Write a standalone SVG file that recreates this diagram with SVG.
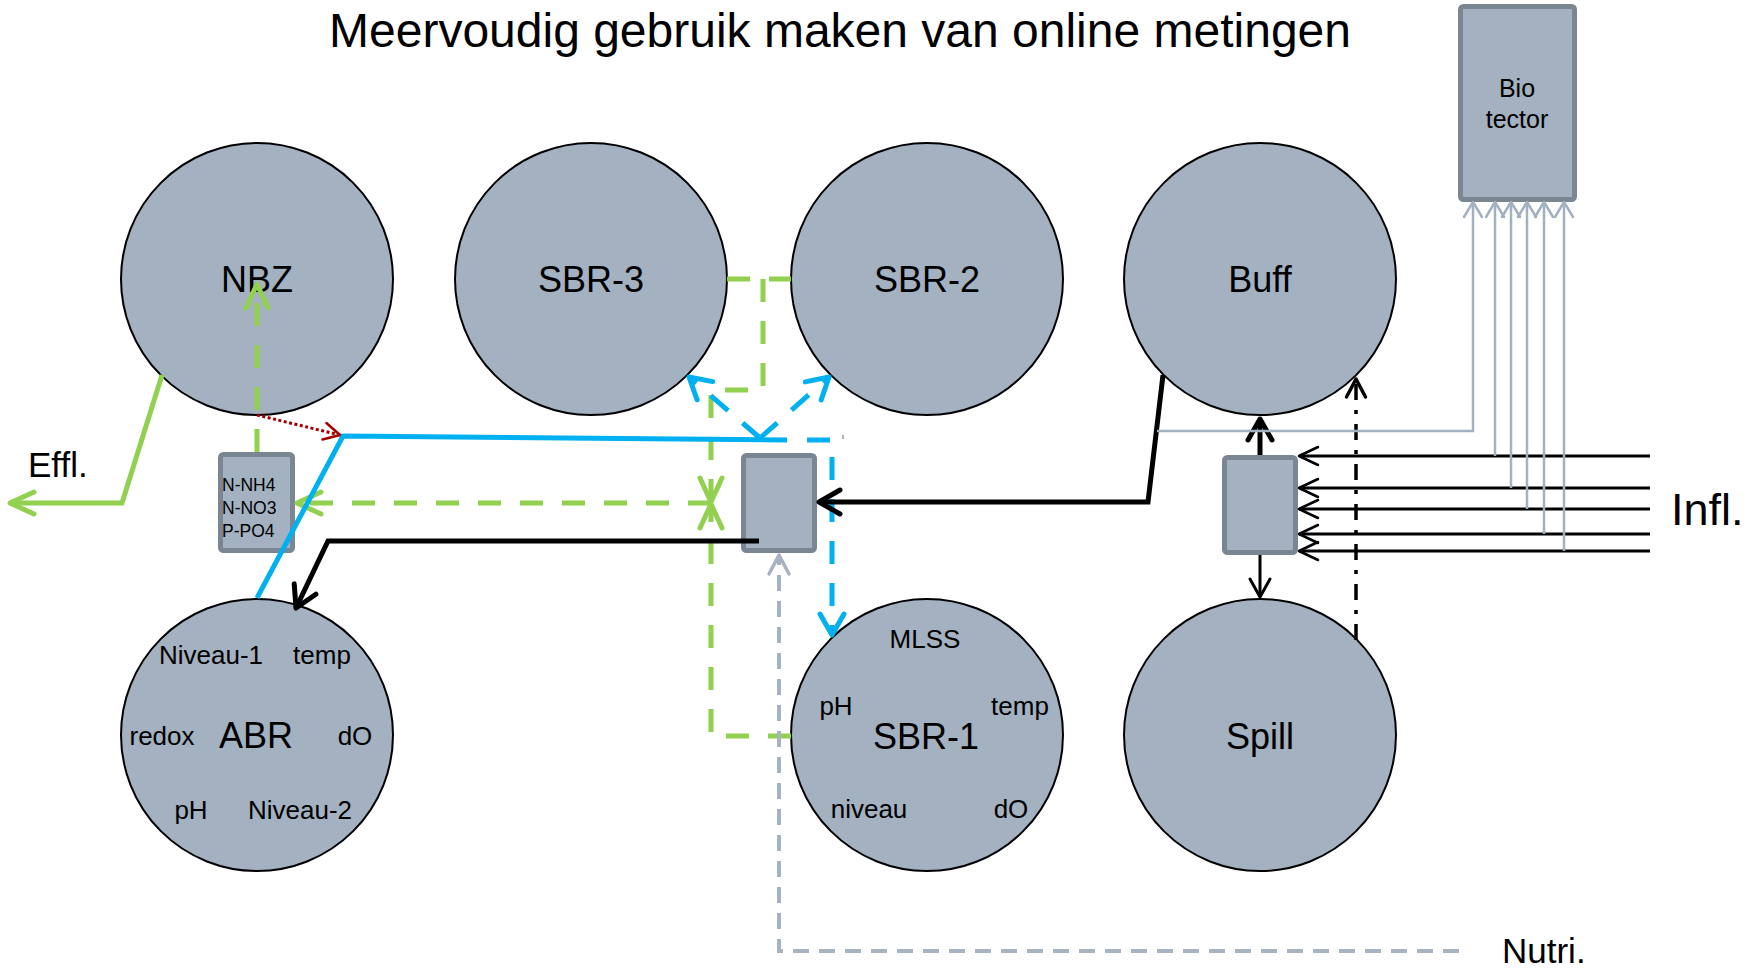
<svg xmlns="http://www.w3.org/2000/svg" width="1758" height="968" viewBox="0 0 1758 968">
<style>
.circ{fill:#a3b1c1;stroke:#000;stroke-width:2}
.box{fill:#a3b1c1;stroke:#7b8693;stroke-width:5}
text{font-family:"Liberation Sans",Arial,sans-serif;fill:#000}
.big{font-size:36px;text-anchor:middle}
.sm{font-size:26px;text-anchor:middle}
.c{fill:none;stroke-linejoin:miter}
.gs{stroke:#92d050;stroke-width:5}
.gd{stroke:#92d050;stroke-width:5;stroke-dasharray:23 19}
.bs{stroke:#00b0f0;stroke-width:5}
.bd{stroke:#00b0f0;stroke-width:5;stroke-dasharray:23 19}
.rd{stroke:#a00000;stroke-width:3;stroke-dasharray:3 2.5}
.k5{stroke:#000;stroke-width:5}
.k3{stroke:#000;stroke-width:3}
.kdd{stroke:#000;stroke-width:3.5;stroke-dasharray:16 10 4 10}
.gr{stroke:#a2b1c1;stroke-width:2.5}
.nd{stroke:#a7b3c1;stroke-width:4;stroke-dasharray:16 10}
.ah{fill:none;stroke-linecap:round;stroke-linejoin:round}
</style>
<defs>
<marker id="mG" markerUnits="userSpaceOnUse" orient="auto" viewBox="-30 -16 34 32" markerWidth="34" markerHeight="32" refX="0" refY="0" overflow="visible"><path class="ah" d="M-24,-11 L0,0 L-24,11" stroke="#92d050" stroke-width="5"/></marker>
<marker id="mB" markerUnits="userSpaceOnUse" orient="auto" viewBox="-30 -16 34 32" markerWidth="34" markerHeight="32" refX="0" refY="0" overflow="visible"><path class="ah" d="M-21,-12 L0,0 L-21,12" stroke="#00b0f0" stroke-width="5"/></marker>
<marker id="mK" markerUnits="userSpaceOnUse" orient="auto" viewBox="-30 -16 34 32" markerWidth="34" markerHeight="32" refX="0" refY="0" overflow="visible"><path class="ah" d="M-21,-12 L0,0 L-21,12" stroke="#000" stroke-width="5"/></marker>
<marker id="mKs" markerUnits="userSpaceOnUse" orient="auto" viewBox="-30 -16 34 32" markerWidth="34" markerHeight="32" refX="0" refY="0" overflow="visible"><path class="ah" d="M-18,-10 L0,0 L-18,10" stroke="#000" stroke-width="3"/></marker>
<marker id="mI" markerUnits="userSpaceOnUse" orient="auto" viewBox="-30 -16 34 32" markerWidth="34" markerHeight="32" refX="0" refY="0" overflow="visible"><path class="ah" d="M-19,-9 L0,0 L-19,9" stroke="#000" stroke-width="2.5"/></marker>
<marker id="mKd" markerUnits="userSpaceOnUse" orient="auto" viewBox="-30 -16 34 32" markerWidth="34" markerHeight="32" refX="0" refY="0" overflow="visible"><path class="ah" d="M-18,-9.5 L0,0 L-18,9.5" stroke="#000" stroke-width="3.5"/></marker>
<marker id="mGr" markerUnits="userSpaceOnUse" orient="auto" viewBox="-30 -16 34 32" markerWidth="34" markerHeight="32" refX="0" refY="0" overflow="visible"><path class="ah" d="M-15,-9 L0,0 L-15,9" stroke="#a2b1c1" stroke-width="2.5"/></marker>
<marker id="mN" markerUnits="userSpaceOnUse" orient="auto" viewBox="-30 -16 34 32" markerWidth="34" markerHeight="32" refX="0" refY="0" overflow="visible"><path class="ah" d="M-19,-10 L0,0 L-19,10" stroke="#a7b3c1" stroke-width="3.5"/></marker>
<marker id="mR" markerUnits="userSpaceOnUse" orient="auto" viewBox="-30 -16 34 32" markerWidth="34" markerHeight="32" refX="0" refY="0" overflow="visible"><path class="ah" d="M-16,-8.5 L0,0 L-16,8.5" stroke="#a00000" stroke-width="2.5"/></marker>
</defs>
<rect width="1758" height="968" fill="#fff"/>
<text x="840" y="47" style="font-size:48px;text-anchor:middle">Meervoudig gebruik maken van online metingen</text>

<g id="NBZ"><circle class="circ" cx="257" cy="279" r="136"/><text class="big" x="257" y="292">NBZ</text></g>
<g id="SBR-3"><circle class="circ" cx="591" cy="279" r="136"/><text class="big" x="591" y="292">SBR-3</text></g>
<g id="SBR-2"><circle class="circ" cx="927" cy="279" r="136"/><text class="big" x="927" y="292">SBR-2</text></g>
<g id="Buff"><circle class="circ" cx="1260" cy="279" r="136"/><text class="big" x="1260" y="292">Buff</text></g>
<g id="ABR"><circle class="circ" cx="257" cy="735" r="136"/><text class="big" x="256" y="748">ABR</text>
<text class="sm" x="211" y="664">Niveau-1</text><text class="sm" x="322" y="664">temp</text>
<text class="sm" x="162" y="745">redox</text><text class="sm" x="355" y="745">dO</text>
<text class="sm" x="191" y="819">pH</text><text class="sm" x="300" y="819">Niveau-2</text></g>
<g id="SBR-1"><circle class="circ" cx="927" cy="735" r="136"/><text class="big" x="926" y="749">SBR-1</text>
<text class="sm" x="925" y="648">MLSS</text><text class="sm" x="836" y="715">pH</text><text class="sm" x="1020" y="715">temp</text>
<text class="sm" x="869" y="818">niveau</text><text class="sm" x="1011" y="818">dO</text></g>
<g id="Spill"><circle class="circ" cx="1260" cy="735" r="136"/><text class="big" x="1260" y="749">Spill</text></g>

<g id="sensor"><rect class="box" x="220.5" y="454.5" width="72" height="96" rx="3"/>
<text x="222" y="491" style="font-size:17.5px">N-NH4</text><text x="222" y="514" style="font-size:17.5px">N-NO3</text><text x="222" y="537" style="font-size:17.5px">P-PO4</text></g>
<g id="verdeler"><rect class="box" x="743.5" y="455.5" width="71" height="95" rx="3"/></g>
<g id="splitter"><rect class="box" x="1224.5" y="457.5" width="71" height="95" rx="3"/></g>
<g id="biotector"><rect class="box" x="1460.5" y="6.5" width="114" height="193" rx="3"/>
<text x="1517" y="97" style="font-size:25px;text-anchor:middle">Bio</text><text x="1517" y="128" style="font-size:25px;text-anchor:middle">tector</text></g>

<g id="connectors">
<path class="c gs" d="M162,375 L122,503 L10,503" marker-end="url(#mG)"/>
<path class="c gd" d="M257,452 V284" marker-end="url(#mG)"/>
<path class="c gd" d="M727,279 H791"/>
<path class="c gd" d="M763,279 V390 H711 V502" marker-end="url(#mG)"/>
<path class="c gd" d="M791,736 H711 V504" marker-end="url(#mG)"/>
<path class="c gd" d="M711,503 H297" marker-end="url(#mG)"/>
<path class="c bs" d="M257,598 L343,436 L787,440"/>
<path class="c bd" d="M760,438 L689,377" marker-end="url(#mB)"/>
<path class="c bd" d="M760,438 L829,377" marker-end="url(#mB)"/>
<path class="c bd" d="M807,440 H832 V635" marker-end="url(#mB)"/>
<path class="c" d="M843,435 V439" stroke="#a7b3c1" stroke-width="2"/>
<path class="c rd" d="M257,415 L340,435" marker-end="url(#mR)"/>
<path class="c k5" d="M759,541 H328 L296,608" marker-end="url(#mK)"/>
<path class="c k5" d="M1163,375 L1148,502 H819" marker-end="url(#mK)"/>
<path class="c k5" d="M1260,455 V419" marker-end="url(#mK)"/>
<path class="c k3" d="M1260,555 V597" marker-end="url(#mKs)"/>
<path class="c kdd" d="M1356,640 V379" marker-end="url(#mKd)"/>
<path class="c k3" d="M1650,456 H1299" marker-end="url(#mI)"/>
<path class="c k3" d="M1650,488 H1299" marker-end="url(#mI)"/>
<path class="c k3" d="M1650,509 H1299" marker-end="url(#mI)"/>
<path class="c k3" d="M1650,534 H1299" marker-end="url(#mI)"/>
<path class="c k3" d="M1650,551 H1299" marker-end="url(#mI)"/>
<path class="c gr" d="M1157,431 H1473 V202" marker-end="url(#mGr)"/>
<path class="c gr" d="M1495,456 V202" marker-end="url(#mGr)"/>
<path class="c gr" d="M1511,488 V202" marker-end="url(#mGr)"/>
<path class="c gr" d="M1527,509 V202" marker-end="url(#mGr)"/>
<path class="c gr" d="M1544,534 V202" marker-end="url(#mGr)"/>
<path class="c gr" d="M1564,551 V202" marker-end="url(#mGr)"/>
<path class="c nd" d="M1459,951 H779 V555" marker-end="url(#mN)"/>
</g>
<text x="28" y="477" style="font-size:35px">Effl.</text>
<text x="1671" y="525" style="font-size:45px">Infl.</text>
<text x="1502" y="963" style="font-size:35px">Nutri.</text>
</svg>
